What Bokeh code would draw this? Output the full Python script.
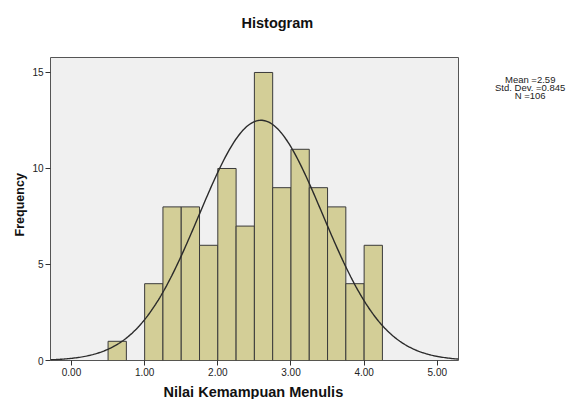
import numpy as np
from bokeh.plotting import figure
from bokeh.models import Range1d, FixedTicker, NumeralTickFormatter, ColumnDataSource, Label
from bokeh.embed import file_html
from bokeh.resources import INLINE

# ---- data ----
bin_left = [0.50, 0.75, 1.00, 1.25, 1.50, 1.75, 2.00, 2.25, 2.50, 2.75, 3.00, 3.25, 3.50, 3.75, 4.00]
counts   = [1,    0,    4,    8,    8,    6,    10,   7,    15,   9,    11,   9,    8,    4,    6]
bin_width = 0.25
mean_val = 2.59
std_val = 0.845
n_val = 106
x_ticks = [0, 1, 2, 3, 4, 5]
y_ticks = [0, 5, 10, 15]
title_text = "Histogram"
x_label = "Nilai Kemampuan Menulis"
y_label = "Frequency"
stats_lines = ["Mean =2.59", "Std. Dev. =0.845", "N =106"]

FONT = "Liberation Sans"
X0, X1 = -0.287, 5.29
Y0, Y1 = 0, 15.78

p = figure(width=568, height=399, output_backend="svg", toolbar_location=None,
           x_range=Range1d(X0, X1), y_range=Range1d(Y0, Y1),
           min_border_left=50, min_border_right=110, min_border_top=57, min_border_bottom=39)
p.title.visible = False
p.background_fill_color = "#F0F0F0"
p.border_fill_color = "white"
p.outline_line_color = "#555555"
p.outline_line_width = 1
p.xgrid.visible = False
p.ygrid.visible = False

# bars
lefts = [l for l, c in zip(bin_left, counts) if c > 0]
tops = [c for c in counts if c > 0]
src = ColumnDataSource(dict(left=lefts, right=[l + bin_width for l in lefts], top=tops,
                            bottom=[0] * len(tops)))
p.quad(left="left", right="right", top="top", bottom="bottom", source=src,
       fill_color="#D3CE97", line_color="#3a3a3a", line_width=1)

# fitted normal curve (from stated mean, sd, N)
xs = np.linspace(X0, X1, 300)
ys = n_val * bin_width * np.exp(-0.5 * ((xs - mean_val) / std_val) ** 2) / (std_val * np.sqrt(2 * np.pi))
p.line(xs, ys, line_color="#2b2b2b", line_width=1.4)

# axes
for ax in (p.xaxis, p.yaxis):
    ax.axis_line_color = None
    ax.major_tick_line_color = "#333333"
    ax.major_tick_in = 0
    ax.major_tick_out = 5
    ax.minor_tick_line_color = None
    ax.major_label_text_font = FONT
    ax.major_label_text_font_size = "10px"
    ax.major_label_text_color = "#222222"
p.xaxis.ticker = FixedTicker(ticks=x_ticks)
p.xaxis.formatter = NumeralTickFormatter(format="0.00")
p.xaxis.major_label_standoff = 2
p.yaxis.ticker = FixedTicker(ticks=y_ticks)
p.yaxis.major_label_standoff = 2

# texts placed in the side panels (outside the frame)
p.add_layout(Label(x=2.814, y=17.58, text=title_text, text_font=FONT, text_font_size="14.5px",
                   text_font_style="bold", text_align="center", text_baseline="middle",
                   text_color="#111111"), "above")
p.add_layout(Label(x=2.486, y=-1.64, text=x_label, text_font=FONT, text_font_size="14.5px",
                   text_font_style="bold", text_align="center", text_baseline="middle",
                   text_color="#111111"), "below")
p.add_layout(Label(x=-0.71, y=8.11, text=y_label, text_font=FONT, text_font_size="12.5px",
                   text_font_style="bold", text_align="center", text_baseline="middle",
                   angle=np.pi / 2, text_color="#111111"), "left")
p.add_layout(Label(x=6.27, y=14.23, text="\n".join(stats_lines), text_font=FONT,
                   text_font_size="9.5px", text_line_height=0.72, text_align="center",
                   text_baseline="middle", text_color="#222222"), "right")

open("out.html", "w").write(file_html(p, INLINE))
